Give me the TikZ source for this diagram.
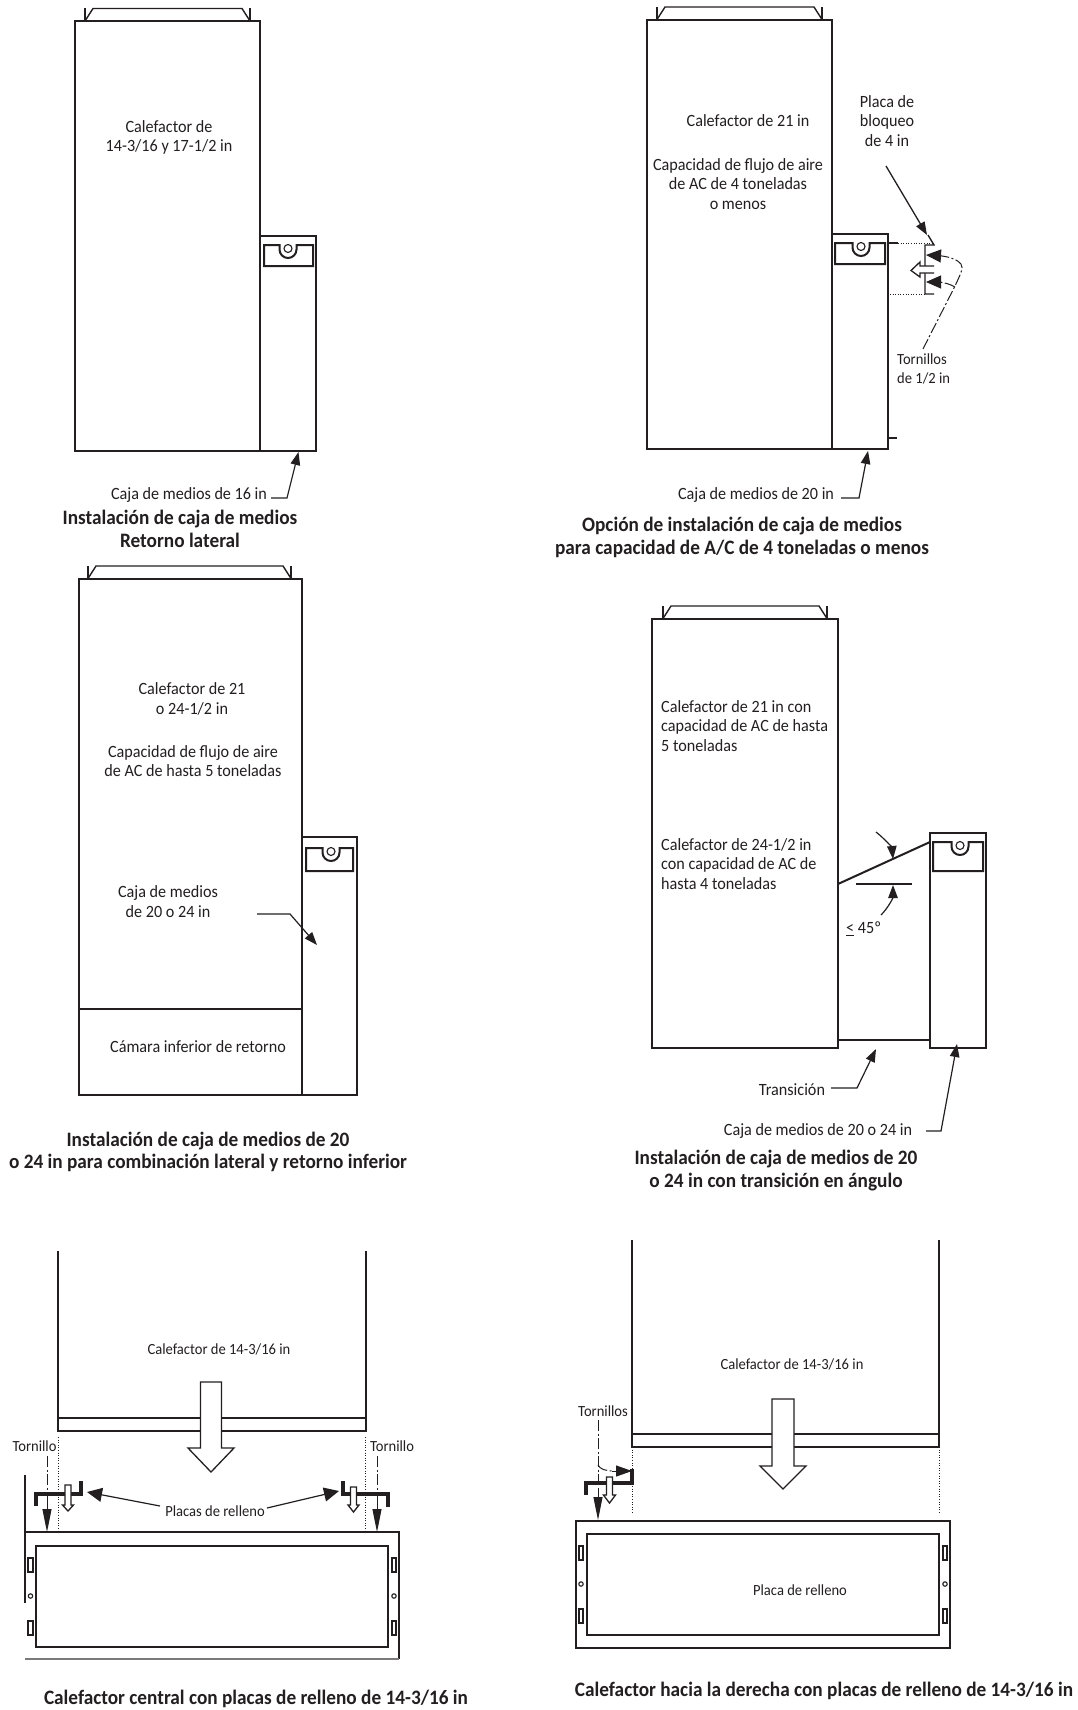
\documentclass[tikz,border=0pt]{standalone}
\usepackage{fontspec}
\setmainfont[FakeStretch=0.94]{Carlito}
\usetikzlibrary{arrows.meta}
\definecolor{ink}{HTML}{231F20}
\tikzset{
  ln/.style={draw=ink,line width=1.4pt},
  thk/.style={draw=ink,line width=2pt},
  plate/.style={draw=ink,line width=3.2pt,line join=miter},
  dot/.style={draw=ink,line width=1pt,dash pattern=on 1pt off 1.6pt},
  dd/.style={draw=ink,line width=1pt,dash pattern=on 11pt off 2.5pt on 2pt off 2.5pt},
  hol/.style={draw=ink,fill=white,line width=1.3pt,line join=miter},
  lab/.style={text=ink,inner sep=0pt,align=center,font=\fontsize{17.2}{19.8}\selectfont},
  labl/.style={lab,align=left,anchor=west},
  small/.style={font=\fontsize{15.5}{19}\selectfont},
  ttl/.style={text=ink,inner sep=0pt,align=center,font=\fontsize{20.5}{22.5}\selectfont\bfseries},
  tip/.style={-{Triangle[length=13pt,width=9.5pt]},draw=ink,line width=1.2pt},
  tipb/.style={-{Triangle[length=23pt,width=9pt]},draw=ink,line width=1pt},
}
\newcommand{\topcap}[3]{% x1 x2 ytop : ticks and trapezoid
  \draw[ln] (#1,#3) -- (#1,#3+12.5);
  \draw[ln] (#2,#3) -- (#2,#3+12.5);
  \draw[ln] (#1,#3+12.5) -- (#1+8,#3) -- (#2-8,#3) -- (#2,#3+12.5);
}
\newcommand{\slotbox}[5]{% x1 x2 y1 y2 cx
  \draw[thk] (#1,#3) -- (#5-8.5,#3) -- (#5-8.5,#3+4.5) arc[start angle=180,end angle=360,radius=8.5pt] -- (#5+8.5,#3) -- (#2,#3) -- (#2,#4) -- (#1,#4) -- cycle;
  \draw[ln,line width=1.1pt] (#5,#3+3.5) circle[radius=4pt];
}
\newcommand{\holdown}[6]{% cx halfshaft halfhead ytop ybase ytip
  \draw[hol] (#1-#2,#4) -- (#1+#2,#4) -- (#1+#2,#5) -- (#1+#3,#5) -- (#1,#6) -- (#1-#3,#5) -- (#1-#2,#5) -- cycle;
}
\newcommand{\panelholes}[4]{% x1 x2 ya yc(circle), yb
  \draw[ln,line width=1.1pt] (#1,#3) rectangle (#2,#3+14);
  \draw[ln,line width=1.1pt] (#1,#4+25) rectangle (#2,#4+39);
  \draw[ln,line width=1.1pt] ({(#1+#2)/2},#4) circle[radius=2.2pt];
}
\begin{document}
\begin{tikzpicture}[x=1pt,y=-1pt]
\useasboundingbox (0,0) rectangle (1078,1710);
\fill[white] (0,0) rectangle (1078,1710);

% ---------- panel 1
\topcap{85}{250}{8.5}
\draw[ln] (75,21) rectangle (260,451);
\draw[ln] (260,236) rectangle (316,451);
\draw[ln,line width=1.8pt] (260,236) -- (260,451);
\slotbox{264}{313}{245}{266}{288}
\node[lab] (p1a) at (169,137.5) {Calefactor de\\14-3/16 y 17-1/2 in};
\node[lab] (p1b) at (189,495) {Caja de medios de 16 in};
\coordinate (p1c) at (298.5,452);
\coordinate (p1d) at (287,498);
\draw[tip] (271,498) -- (p1d) -- (p1c);
\node[ttl] (p1t) at (180,529) {Instalación de caja de medios\\Retorno lateral};

% ---------- panel 2
\topcap{657}{822}{7}
\draw[ln] (647,20) rectangle (832,449);
\draw[ln] (832,234) rectangle (888,449);
\draw[ln,line width=1.8pt] (832,234) -- (832,449);
\slotbox{835}{885}{243}{264}{861}
\node[lab] (p2a) at (887,121) {Placa de\\bloqueo\\de 4 in};
\node[lab] (p2b) at (748,121) {Calefactor de 21 in};
\node[lab] (p2c) at (738,184) {Capacidad de flujo de aire\\de AC de 4 toneladas\\o menos};
\node[lab] (p2d) at (756,495) {Caja de medios de 20 in};
\node[ttl] (p2t) at (742,537.5) {Opción de instalación de caja de medios\\para capacidad de A/C de 4 toneladas o menos};
\node[labl,small] (p2e) at (897,369) {Tornillos\\de 1/2 in};
\draw[ln] (888,243) -- (898,243);
\draw[dot] (898,243) -- (932,243);
\draw[dot] (890,294) -- (925,294);
\draw[ln] (925,294) -- (934,294) (925,294) -- (925,245) -- (934,245) -- (928,235);
\draw[ln] (888,438) -- (897,438);
\coordinate (p2f) at (927,235);
\draw[tip,line width=1.3pt] (886,166) -- (p2f);
\draw[hol] (934,266) -- (920,266) -- (920,262) -- (911,270.5) -- (920,277) -- (920,273) -- (934,273);
\coordinate (p2g) at (926,255);
\coordinate (p2h) at (926,282);
\draw[dd] (923,349) -- (955,286) .. controls (960,275) and (964,268) .. (961,264) .. controls (958,260) and (950,257) .. (942,256);
\draw[dd] (955,287) .. controls (950,284) and (945,283) .. (940,282);
\draw[-{Triangle[length=15pt,width=13pt]},draw=ink,line width=1pt] (942,256) -- (p2g);
\draw[-{Triangle[length=15pt,width=13pt]},draw=ink,line width=1pt] (941,282) -- (p2h);
\coordinate (p2i) at (868,451);
\draw[tip] (841,498) -- (859,498) -- (p2i);

% ---------- panel 3
\topcap{88}{291}{566}
\draw[ln] (79,579) rectangle (302,1095);
\draw[ln] (79,1009) -- (302,1009);
\draw[ln] (302,837) rectangle (357,1095);
\draw[ln,line width=1.8pt] (302,837) -- (302,1095);
\slotbox{306}{353}{848}{871}{331}
\node[lab] (p3a) at (192,698.5) {Calefactor de 21\\o 24-1/2 in};
\node[lab] (p3b) at (193,761) {Capacidad de flujo de aire\\de AC de hasta 5 toneladas};
\node[lab] (p3c) at (168,901.5) {Caja de medios\\de 20 o 24 in};
\node[lab] (p3d) at (198,1047) {Cámara inferior de retorno};
\coordinate (p3e) at (317,945);
\draw[tip] (257,914) -- (290,914) -- (p3e);
\node[ttl] (p3t) at (208,1152) {Instalación de caja de medios de 20\\o 24 in para combinación lateral y retorno inferior};

% ---------- panel 4
\topcap{663}{827}{606}
\draw[ln] (652,619) rectangle (838,1048);
\draw[ln] (930,833) rectangle (986,1048);
\draw[ln] (838,1040) -- (930,1040);
\draw[thk] (838,884) -- (930,842);
\draw[ln] (856,884) -- (912,884);
\slotbox{933}{983}{842}{871}{960}
\node[labl] (p4a) at (661,726) {Calefactor de 21 in con\\capacidad de AC de hasta\\5 toneladas};
\node[labl] (p4b) at (661,864) {Calefactor de 24-1/2 in\\con capacidad de AC de\\hasta 4 toneladas};
\node[lab,anchor=west] (p4c) at (846,929) {\underline{<} 45º};
\node[lab] (p4d) at (792,1090) {Transición};
\node[lab] (p4e) at (818,1131) {Caja de medios de 20 o 24 in};
\node[ttl] (p4t) at (776,1170.5) {Instalación de caja de medios de 20\\o 24 in con transición en ángulo};
\coordinate (p4f) at (893,859);
\coordinate (p4g) at (893,885);
\coordinate (p4h) at (876,1049);
\coordinate (p4i) at (957,1044);
\draw[tip] (876,832) .. controls (885,839) and (892,848) .. (p4f);
\draw[tip] (881,915) .. controls (888,908) and (893,898) .. (p4g);
\draw[tip] (831,1088) -- (857,1088) -- (p4h);
\draw[tip] (926,1131) -- (941,1131) -- (p4i);

% ---------- panel 5
\draw[ln] (58,1251) -- (58,1431) -- (366,1431) -- (366,1251);
\draw[ln] (58,1418) -- (366,1418);
\holdown{211}{10.5}{23}{1382}{1448}{1472}
\draw[dot] (58,1437) -- (58,1532);
\draw[dot] (365,1437) -- (365,1532);
\node[lab,small] (p5a) at (34.5,1446) {Tornillo};
\node[lab,small] (p5b) at (392,1446) {Tornillo};
\node[lab,small] (p5c) at (219,1349) {Calefactor de 14-3/16 in};
\node[lab,small] (p5d) at (215,1511) {Placas de relleno};
\draw[ln] (25,1475) -- (25,1603);
\draw[ln] (25,1532) -- (399,1532) -- (399,1659);
\draw[ln,draw=ink!60] (25,1659) -- (399,1659);
\draw[ln] (36,1546) rectangle (388,1647);
\panelholes{28}{33}{1558}{1596}
\panelholes{392}{396}{1558}{1596}
\draw[plate] (36,1506) -- (36,1494) -- (81,1494) -- (81,1481);
\draw[plate] (343,1481) -- (343,1494) -- (388,1494) -- (388,1507);
\holdown{68}{3}{5.5}{1485}{1505}{1511}
\holdown{353.5}{3}{5.5}{1487}{1505}{1512}
\coordinate (p5e) at (47,1532);
\coordinate (p5f) at (377,1532);
\draw[dd] (47,1456) -- (47,1510);
\draw[dd] (377,1456) -- (377,1510);
\draw[tipb] (47,1500) -- (p5e);
\draw[tipb] (377,1500) -- (p5f);
\coordinate (p5g) at (87,1492);
\coordinate (p5h) at (339,1491);
\draw[-{Triangle[length=15pt,width=14pt]},draw=ink,line width=1.2pt] (160,1506) -- (p5g);
\draw[-{Triangle[length=15pt,width=14pt]},draw=ink,line width=1.2pt] (267,1508) -- (p5h);
\node[ttl] (p5t) at (256,1699) {Calefactor central con placas de relleno de 14-3/16 in};

% ---------- panel 6
\draw[ln] (632,1240) -- (632,1447) -- (939,1447) -- (939,1240);
\draw[ln] (632,1434) -- (939,1434);
\holdown{783}{11}{23}{1399}{1466}{1489}
\draw[dot] (632,1447) -- (632,1513);
\draw[dot] (939,1447) -- (939,1514);
\node[lab,small] (p6a) at (603,1411) {Tornillos};
\node[lab,small] (p6b) at (792,1364) {Calefactor de 14-3/16 in};
\node[lab,small] (p6c) at (800,1590) {Placa de relleno};
\draw[ln] (576,1521) rectangle (950,1648);
\draw[ln] (587,1534) rectangle (939,1635);
\panelholes{579}{583}{1546}{1584}
\panelholes{943}{947}{1546}{1584}
\draw[plate] (586,1495) -- (586,1483) -- (632,1483) -- (632,1469);
\holdown{609.5}{3}{6}{1477}{1495}{1503}
\coordinate (p6d) at (598,1520);
\coordinate (p6e) at (632,1471);
\draw[dd] (598,1420) -- (598,1498);
\draw[tipb] (598,1490) -- (p6d);
\draw[dd] (598,1465) .. controls (600,1469) and (605,1471) .. (614,1471);
\draw[-{Triangle[length=16pt,width=11pt]},draw=ink,line width=1pt] (612,1471) -- (p6e);
\node[ttl] (p6t) at (824,1691) {Calefactor hacia la derecha con placas de relleno de 14-3/16 in};
\end{tikzpicture}
\end{document}
